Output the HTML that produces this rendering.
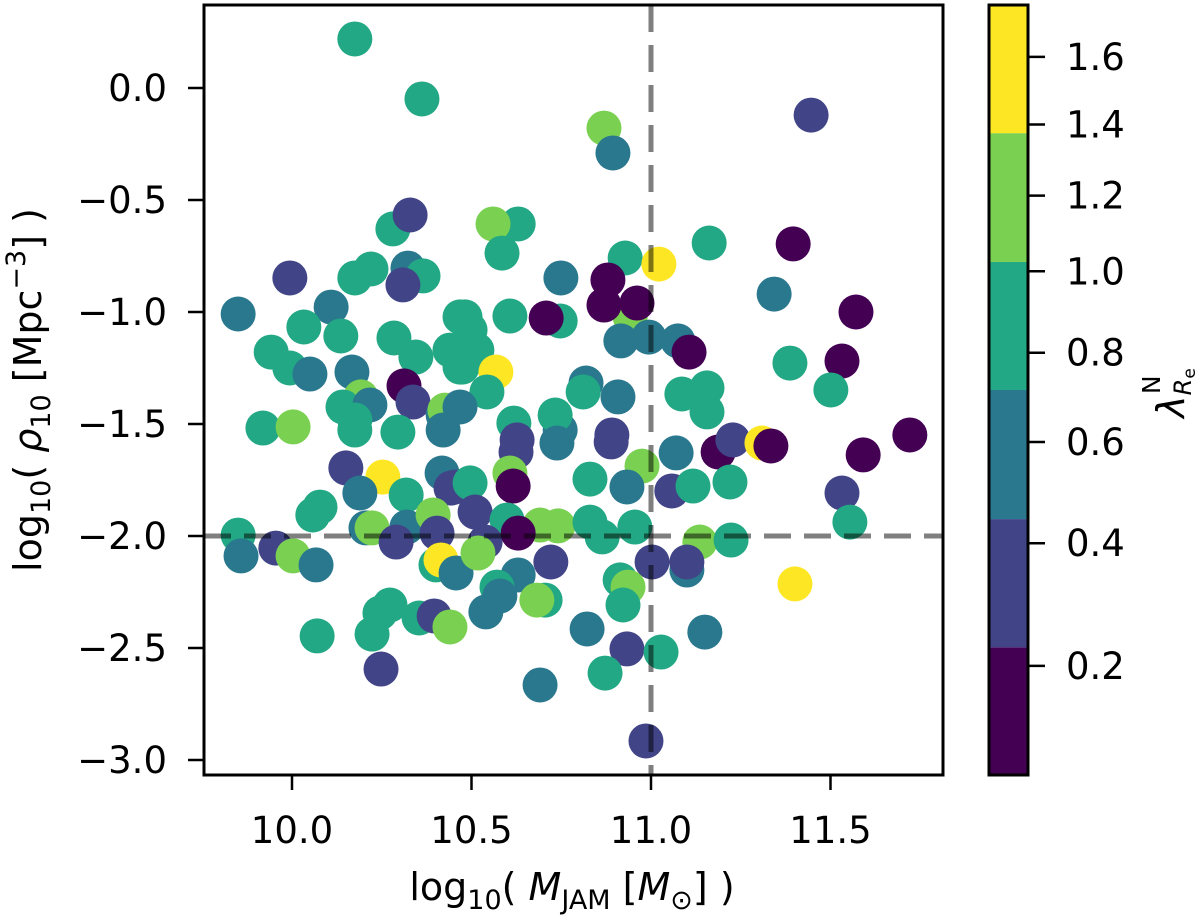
<!DOCTYPE html>
<html><head><meta charset="utf-8">
<style>
html,body{margin:0;padding:0;background:#fff;}
svg{display:block;font-family:"DejaVu Sans","Liberation Sans",sans-serif;}
</style></head>
<body>
<svg id="chart" width="1200" height="916" viewBox="0 0 1200 916" xmlns="http://www.w3.org/2000/svg">
<rect width="1200" height="916" fill="#fff"/>
<g id="points"></g>
<g id="refs"></g>
<rect x="204" y="5" width="739" height="770" fill="none" stroke="#000" stroke-width="3"/>
<g id="xticks"></g>
<g id="yticks"></g>
<text x="572" y="900" font-size="38" text-anchor="middle">log<tspan font-size="27" dy="9">10</tspan><tspan dy="-9">( </tspan><tspan font-style="italic">M</tspan><tspan font-size="27" dy="9">JAM</tspan><tspan dy="-9"> [</tspan><tspan font-style="italic">M</tspan><tspan font-size="27" dy="9">⊙</tspan><tspan dy="-9">] )</tspan></text>
<text transform="translate(41,390) rotate(-90)" font-size="38" text-anchor="middle">log<tspan font-size="27" dy="9">10</tspan><tspan dy="-9">( </tspan><tspan font-style="italic">ρ</tspan><tspan font-size="27" dy="9">10</tspan><tspan dy="-9"> [Mpc</tspan><tspan font-size="27" dy="-16">−3</tspan><tspan dy="16">] )</tspan></text>
<g id="cbar"></g>
<text transform="translate(1184,393) rotate(-90)" font-size="38" text-anchor="middle"><tspan font-style="italic">λ</tspan><tspan font-size="24" dy="7" font-style="italic">R</tspan><tspan font-size="17" dy="4">e</tspan><tspan font-size="25" dx="-26" dy="-35">N</tspan></text>
</svg>
<script>
const mass = [10.175,10.362,10.869,10.894,11.446,10.281,10.329,9.994,10.175,10.220,10.323,10.365,10.309,9.850,10.109,10.033,10.136,9.942,9.994,10.050,10.284,10.345,10.440,10.468,10.468,10.167,10.192,10.142,10.217,10.175,10.312,10.337,10.421,10.426,9.919,10.003,10.295,10.630,10.560,10.585,10.928,11.022,11.162,10.749,10.942,10.880,10.869,10.961,10.482,10.607,10.747,10.708,10.496,10.515,10.474,10.568,10.543,10.916,10.994,11.075,11.106,10.819,10.811,10.908,11.086,11.156,11.156,10.468,10.618,10.747,10.733,10.891,10.627,10.175,10.421,10.150,10.253,10.189,10.318,10.418,10.443,10.078,10.058,9.850,9.858,9.955,10.003,10.067,10.206,10.223,10.320,10.290,10.393,10.404,10.401,10.415,10.457,10.273,10.245,10.223,10.354,10.396,10.440,10.070,10.248,10.624,10.738,10.889,10.975,11.070,11.187,10.830,10.933,11.058,11.117,10.454,10.496,10.607,10.616,10.510,10.599,10.691,10.741,10.538,10.630,10.830,10.864,10.955,11.136,10.518,10.721,11.003,11.100,11.100,10.630,10.571,10.579,10.540,10.705,10.682,10.914,10.936,10.922,10.822,10.933,11.028,11.150,10.872,10.691,10.986,11.396,11.343,11.571,11.387,11.532,11.501,11.228,11.309,11.334,11.721,11.591,11.220,11.532,11.554,11.223,11.401];
const density = [0.219,-0.049,-0.179,-0.290,-0.121,-0.629,-0.567,-0.848,-0.848,-0.808,-0.804,-0.839,-0.879,-1.009,-0.978,-1.067,-1.107,-1.179,-1.250,-1.277,-1.116,-1.201,-1.170,-1.022,-1.246,-1.268,-1.379,-1.424,-1.415,-1.482,-1.330,-1.402,-1.460,-1.438,-1.518,-1.513,-1.536,-0.607,-0.607,-0.737,-0.759,-0.786,-0.692,-0.848,-1.022,-0.857,-0.969,-0.960,-1.022,-1.018,-1.040,-1.027,-1.080,-1.170,-1.246,-1.268,-1.357,-1.129,-1.112,-1.129,-1.179,-1.317,-1.357,-1.379,-1.366,-1.339,-1.446,-1.424,-1.496,-1.527,-1.460,-1.549,-1.571,-1.527,-1.527,-1.696,-1.737,-1.808,-1.817,-1.719,-1.786,-1.871,-1.906,-1.996,-2.089,-2.054,-2.089,-2.129,-1.964,-1.964,-1.960,-2.027,-1.906,-1.987,-2.129,-2.107,-2.165,-2.308,-2.344,-2.438,-2.366,-2.357,-2.406,-2.446,-2.594,-1.625,-1.585,-1.580,-1.688,-1.629,-1.625,-1.746,-1.781,-1.799,-1.777,-1.781,-1.763,-1.719,-1.777,-1.893,-1.929,-1.951,-1.955,-2.027,-1.987,-1.938,-2.004,-1.960,-2.027,-2.076,-2.116,-2.116,-2.152,-2.116,-2.174,-2.228,-2.268,-2.339,-2.286,-2.286,-2.196,-2.228,-2.308,-2.415,-2.504,-2.518,-2.429,-2.612,-2.665,-2.915,-0.696,-0.920,-1.000,-1.228,-1.219,-1.348,-1.571,-1.585,-1.598,-1.549,-1.638,-1.759,-1.808,-1.938,-2.018,-2.214];
const lambdaN = [0.8,0.8,1.2,0.6,0.4,0.8,0.4,0.4,0.8,0.8,0.6,0.8,0.4,0.6,0.6,0.8,0.8,0.8,0.8,0.6,0.8,0.8,0.8,0.8,0.8,0.6,1.2,0.8,0.6,0.8,0.2,0.4,0.6,1.2,0.8,1.2,0.8,0.8,1.2,0.8,0.8,1.6,0.8,0.6,1.2,0.2,0.2,0.2,0.8,0.8,0.8,0.2,0.8,0.8,0.8,1.6,0.8,0.6,0.6,0.6,0.2,0.6,0.8,0.6,0.8,0.8,0.8,0.6,0.8,0.6,0.8,0.4,0.4,0.8,0.6,0.4,1.6,0.6,0.8,0.6,0.4,0.8,0.8,0.8,0.6,0.4,1.2,0.6,0.6,1.2,0.6,0.4,1.2,0.4,0.8,1.6,0.6,0.8,0.8,0.8,0.8,0.4,1.2,0.8,0.4,0.4,0.6,0.4,1.2,0.6,0.2,0.8,0.6,0.4,0.8,0.4,0.8,1.2,0.2,0.4,0.8,1.2,1.2,0.4,0.2,0.8,0.8,0.8,1.2,1.2,0.4,0.4,0.6,0.4,0.6,0.8,0.6,0.6,0.8,1.2,0.8,1.2,0.8,0.6,0.4,0.8,0.6,0.8,0.6,0.4,0.2,0.6,0.2,0.8,0.2,0.8,0.4,1.6,0.2,0.2,0.2,0.8,0.4,0.8,0.8,1.6];
const xTicks = [10.0,10.5,11.0,11.5];
const yTicks = [0.0,-0.5,-1.0,-1.5,-2.0,-2.5,-3.0];
const cbTicks = [0.2,0.4,0.6,0.8,1.0,1.2,1.4,1.6];
const cbBounds = [0.0688,0.227,0.445,0.714,1.024,1.375,1.76];
const cbColors = ['#440154','#414487','#2a788e','#22a884','#7ad151','#fde725'];
const refMass = [11.0];
const refDensity = [-2.0];

const NS='http://www.w3.org/2000/svg';
const X0=204,X1=943,Y0=5,Y1=775;
const sx=v=>292+(v-10)*359;
const sy=v=>88-v*224;
const CB_GAMMA=0.635;
const sc=v=> 887.7-616.4*Math.pow(v,CB_GAMMA);
function colorOf(v){for(let i=0;i<cbColors.length;i++){if(v<cbBounds[i+1])return cbColors[i];}return cbColors[cbColors.length-1];}
function mk(tag,attrs,parent){const e=document.createElementNS(NS,tag);for(const k in attrs)e.setAttribute(k,attrs[k]);parent.appendChild(e);return e;}

const gp=document.getElementById('points');
mass.forEach((m,i)=>{
  const c=mk('circle',{cx:sx(m),cy:sy(density[i]),r:17.5,fill:colorOf(lambdaN[i])},gp);
  
  
});
const gr=document.getElementById('refs');
refMass.forEach(v=>{
  const l=mk('line',{x1:sx(v),x2:sx(v),y1:Y0,y2:Y1,stroke:'#000','stroke-opacity':0.5,'stroke-width':5,'stroke-dasharray':'27,13'},gr);
  
  
});
refDensity.forEach(v=>{
  const l=mk('line',{x1:X0,x2:X1,y1:sy(v),y2:sy(v),stroke:'#000','stroke-opacity':0.5,'stroke-width':5,'stroke-dasharray':'27,13'},gr);
  
  
});
const gx=document.getElementById('xticks');
xTicks.forEach(v=>{
  const t=mk('line',{x1:sx(v),x2:sx(v),y1:Y1,y2:Y1+15,stroke:'#000','stroke-width':2.5},gx);
  
  
  const tx=mk('text',{x:sx(v),y:Y1+68,'font-size':37,'text-anchor':'middle'},gx);
  tx.textContent=v.toFixed(1);
  
  
});
const gy=document.getElementById('yticks');
yTicks.forEach(v=>{
  const t=mk('line',{x1:X0-16,x2:X0,y1:sy(v),y2:sy(v),stroke:'#000','stroke-width':2.5},gy);
  
  
  const tx=mk('text',{x:167,y:sy(v)+13,'font-size':37,'text-anchor':'end'},gy);
  tx.textContent=(v<0?'−':'')+Math.abs(v).toFixed(1);
  
  
});
const gc=document.getElementById('cbar');
const CX=989,CW=39;
cbColors.forEach((col,i)=>{
  const top=Math.max(Y0,sc(cbBounds[i+1])), bot=Math.min(Y1,sc(cbBounds[i]));
  const r=mk('rect',{x:CX,y:top,width:CW,height:bot-top,fill:col},gc);
  
  
});
mk('rect',{x:CX,y:Y0,width:CW,height:Y1-Y0,fill:'none',stroke:'#000','stroke-width':3},gc);
cbTicks.forEach(v=>{
  const t=mk('line',{x1:CX+CW,x2:CX+CW+17,y1:sc(v),y2:sc(v),stroke:'#000','stroke-width':2.5},gc);
  
  
  const tx=mk('text',{x:1066,y:sc(v)+13,'font-size':37},gc);
  tx.textContent=v.toFixed(1);
  
  
});
</script>
</body></html>
